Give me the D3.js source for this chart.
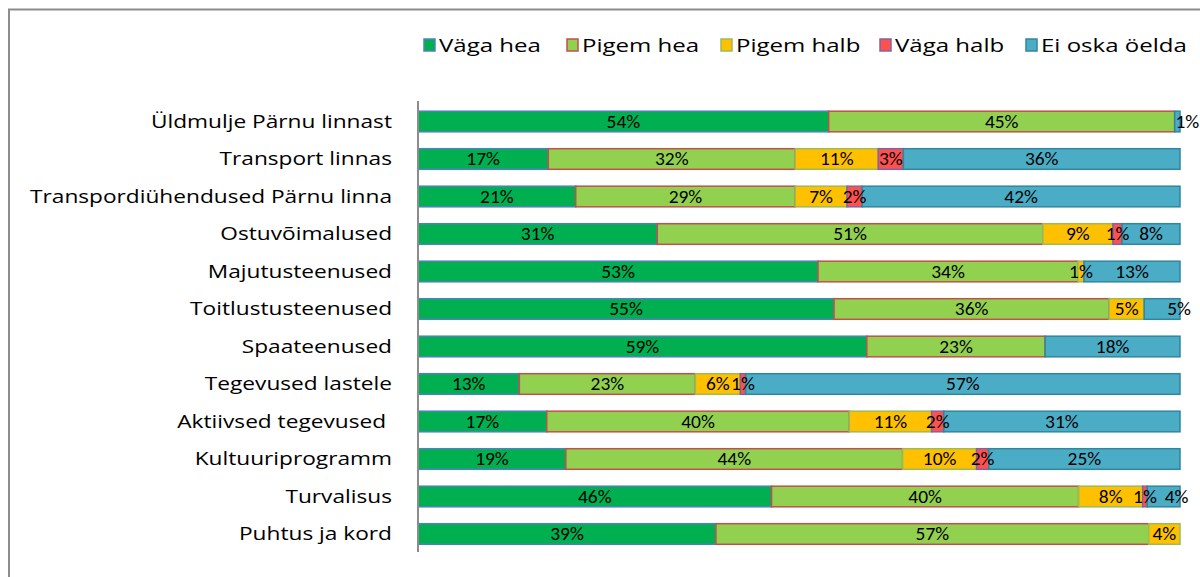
<!DOCTYPE html>
<html lang="et">
<head>
<meta charset="UTF-8">
<title>Hinnangud Pärnule</title>
<style>
    body { margin: 0; background: #fff; }
    text { font-family: Calibri, Carlito, Lato, sans-serif; fill: #000; }
    .cat, .leg { font-family: "Open Sans", sans-serif; font-size: 17.5px; white-space: pre; }
    .val { font-size: 18px; }
</style>
</head>
<body>
<svg id="chart" width="1200" height="577"></svg>
<script src="https://d3js.org/d3.v7.min.js"></script>
<script>
// categories, top to bottom
const categories = [
    "Üldmulje Pärnu linnast",
    "Transport linnas",
    "Transpordiühendused Pärnu linna",
    "Ostuvõimalused",
    "Majutusteenused",
    "Toitlustusteenused",
    "Spaateenused",
    "Tegevused lastele",
    "Aktiivsed tegevused ",
    "Kultuuriprogramm",
    "Turvalisus",
    "Puhtus ja kord"
];

// shares in %
const vagaHea    = [53.9, 17.1, 20.7, 31.4, 52.5, 54.6, 58.9, 13.3, 16.9, 19.4, 46.4, 39.1];
const pigemHea   = [45.4, 32.4, 28.8, 50.6, 34.1, 36.1, 23.4, 23.1, 39.7, 44.2, 40.3, 56.8];
const pigemHalb  = [0,    10.9, 6.8,  9.2,  0.8,  4.6,  0,    5.9,  10.8, 9.7,  8.4,  4.1];
const vagaHalb   = [0,    3.3,  2.0,  1.2,  0,    0,    0,    0.7,  1.6,  1.6,  0.6,  0];
const eiOskaOelda = [0.7, 36.3, 41.7, 7.6,  12.6, 4.7,  17.7, 57.0, 31.0, 25.1, 4.3,  0];

const seriesNames = ["Väga hea", "Pigem hea", "Pigem halb", "Väga halb", "Ei oska öelda"];
const seriesValues = [vagaHea, pigemHea, pigemHalb, vagaHalb, eiOskaOelda];
const fills   = ["#00B050", "#92D050", "#FFC000", "#FF5050", "#4BACC6"];
const strokes = ["#4F81BD", "#C0504D", "#9BBB59", "#8064A2", "#31859C"];

const svg = d3.select("#chart");

// the original picture is stretched sideways; measure the longest label
// and widen the text so it spans the same room (about 362px)
const probe = svg.append("text").attr("class", "cat").text(categories[2]);
const stretch = 362 / probe.node().getComputedTextLength();
probe.remove();

// chart frame
svg.append("path")
    .attr("d", "M9,577 V9.5 H1200")
    .attr("fill", "none")
    .attr("stroke", "#8c8c8c")
    .attr("stroke-width", 2);

const x = d3.scaleLinear().domain([0, 100]).range([418, 1180]);
const y = d3.scaleBand().domain(categories).range([102.75, 552.75])
    .paddingInner(0.45).paddingOuter(0.225);

// stack the rows
const rows = categories.map((c, i) => {
    const r = { cat: c };
    seriesNames.forEach((s, j) => r[s] = seriesValues[j][i]);
    return r;
});
const stacked = d3.stack().keys(seriesNames)(rows);

stacked.forEach((layer, j) => {
    svg.append("g").selectAll("rect")
        .data(layer.filter(d => d[1] - d[0] > 0))
        .join("rect")
        .attr("x", d => x(d[0]))
        .attr("y", d => y(d.data.cat))
        .attr("width", d => x(d[1]) - x(d[0]))
        .attr("height", y.bandwidth())
        .attr("fill", fills[j])
        .attr("stroke", strokes[j])
        .attr("stroke-width", 1.5);
});

// a few end labels were pushed right in the original so they don't collide
const nudgeLast = { 0: 10, 5: 17, 10: 13 };

// value labels
stacked.forEach((layer, j) => {
    svg.append("g").selectAll("text")
        .data(layer.filter(d => d[1] - d[0] > 0))
        .join("text")
        .attr("class", "val")
        .attr("transform", d => {
            const i = categories.indexOf(d.data.cat);
            const shift = j === 4 && nudgeLast[i] ? nudgeLast[i] : 0;
            const cx = (x(d[0]) + x(d[1])) / 2 + shift;
            return `translate(${cx},${y(d.data.cat) + y.bandwidth() / 2}) scale(1.08,1)`;
        })
        .attr("dy", "0.36em")
        .attr("text-anchor", "middle")
        .text(d => Math.round(d[1] - d[0]) + "%");
});

// category axis
svg.append("g")
    .selectAll("text")
    .data(categories)
    .join("text")
    .attr("class", "cat")
    .attr("transform", d => `translate(392,${y(d) + y.bandwidth() / 2}) scale(${stretch},1)`)
    .attr("dy", "0.36em")
    .attr("text-anchor", "end")
    .text(d => d);

svg.append("line")
    .attr("x1", 418).attr("x2", 418)
    .attr("y1", 101).attr("y2", 552)
    .attr("stroke", "#8c8c8c")
    .attr("stroke-width", 2);

// legend
const legendX = [424, 567, 721, 880, 1026];
const leg = svg.append("g");
seriesNames.forEach((s, j) => {
    leg.append("rect")
        .attr("x", legendX[j]).attr("y", 39)
        .attr("width", 11).attr("height", 12)
        .attr("fill", fills[j])
        .attr("stroke", strokes[j])
        .attr("stroke-width", 1.5);
    leg.append("text")
        .attr("class", "leg")
        .attr("transform", `translate(${legendX[j] + 15},46) scale(${stretch * 1.06},1)`)
        .attr("dy", "0.36em")
        .text(s);
});
</script>
</body>
</html>
